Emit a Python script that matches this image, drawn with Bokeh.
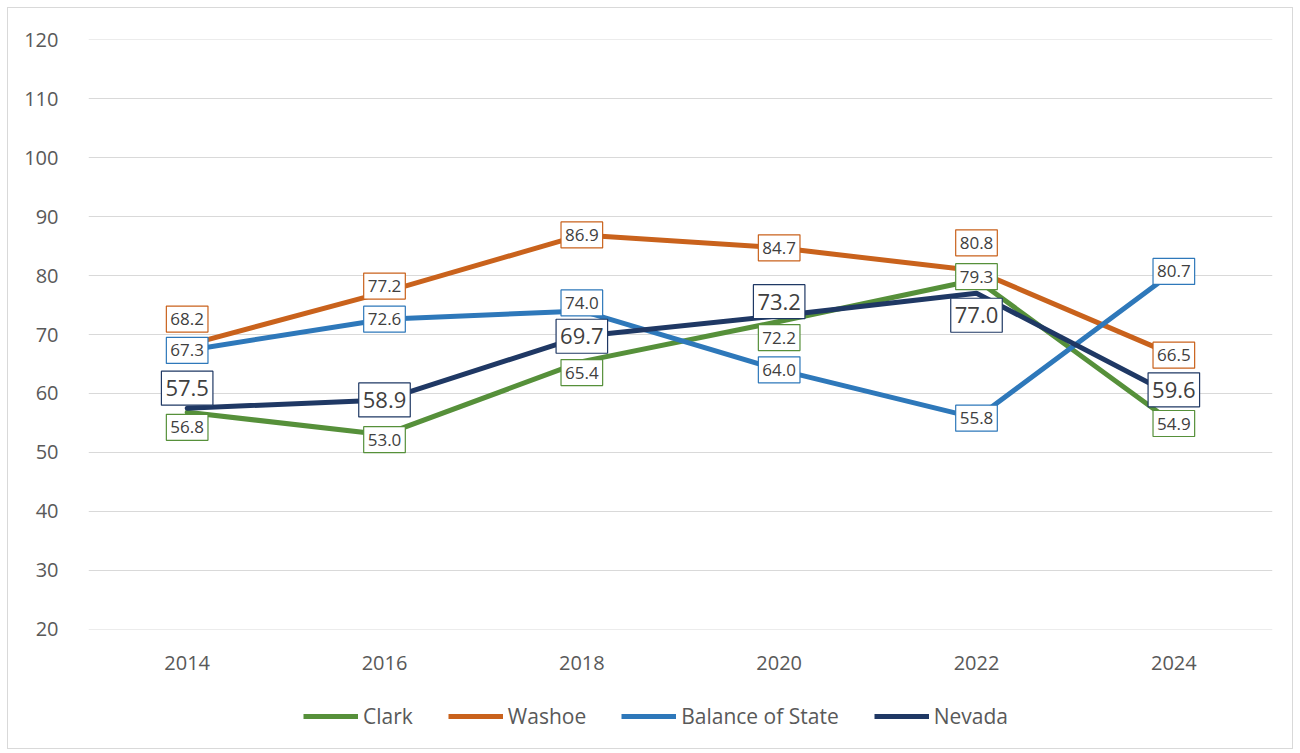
from bokeh.plotting import figure
from bokeh.layouts import column
from bokeh.models import (ColumnDataSource, Label, Legend, LegendItem,
                          Range1d, FixedTicker)
from bokeh.embed import file_html
from bokeh.resources import INLINE

# ---------------- data ----------------
years = [2014, 2016, 2018, 2020, 2022, 2024]
clark = [56.8, 53.0, 65.4, 72.2, 79.3, 54.9]
washoe = [68.2, 77.2, 86.9, 84.7, 80.8, 66.5]
balance = [67.3, 72.6, 74.0, 64.0, 55.8, 80.7]
nevada = [57.5, 58.9, 69.7, 73.2, 77.0, 59.6]
series_names = ["Clark", "Washoe", "Balance of State", "Nevada"]
y_ticks = [20, 30, 40, 50, 60, 70, 80, 90, 100, 110, 120]

# ---------------- styling ----------------
colors = {"Clark": "#56903A", "Washoe": "#C9621C",
          "Balance of State": "#2E78BA", "Nevada": "#1F3864"}
# manual label placement (pixel shifts, up = positive), as in the original chart
label_shift = {"Clark": [-15, -5, -11, -16, 3, 0],
               "Washoe": [26, 6, 0, 0, 28, 0],
               "Balance of State": [0, 0, 8, 0, 0, 0],
               "Nevada": [20, 0, 0, 14, -22, 6]}
label_size = {"Clark": "17px", "Washoe": "17px",
              "Balance of State": "17px", "Nevada": "22px"}
label_pad = {"Clark": (4, 7), "Washoe": (4, 7),
             "Balance of State": (4, 7), "Nevada": (4, 9)}
FONT = "Open Sans"
TXT = "#595959"

values = {"Clark": clark, "Washoe": washoe,
          "Balance of State": balance, "Nevada": nevada}

# ---------------- main chart ----------------
p = figure(output_backend="svg", toolbar_location=None,
           x_range=Range1d(years[0] - 1, years[-1] + 1),
           y_range=Range1d(19.95, 120.05),
           frame_width=1184, frame_height=590,
           min_border_left=80, min_border_right=20, min_border_top=31,
           min_border_bottom=60)
p.outline_line_color = None
p.background_fill_color = "white"
p.border_fill_color = "white"

p.xgrid.visible = False
p.ygrid.grid_line_color = "#d9d9d9"
p.ygrid.grid_line_width = 1

p.yaxis.ticker = FixedTicker(ticks=y_ticks)
p.xaxis.ticker = FixedTicker(ticks=years)
for ax in (p.xaxis, p.yaxis):
    ax.axis_line_color = None
    ax.major_tick_line_color = None
    ax.minor_tick_line_color = None
    ax.major_label_text_font = FONT
    ax.major_label_text_font_size = "20px"
    ax.major_label_text_color = TXT
p.yaxis.major_label_standoff = 24
p.xaxis.major_label_standoff = 20

for name in series_names:
    src = ColumnDataSource(dict(x=years, y=values[name]))
    p.line("x", "y", source=src, line_color=colors[name],
           line_width=5, line_join="round", line_cap="round")

has_padding = "padding" in Label.properties()
for name in series_names:
    for yr, v, dy in zip(years, values[name], label_shift[name]):
        kw = dict(x=yr, y=v, y_offset=dy, text=f"{v:.1f}",
                  text_align="center", text_baseline="middle",
                  text_font=FONT, text_font_size=label_size[name],
                  text_color="#404040",
                  background_fill_color="white", background_fill_alpha=1.0,
                  border_line_color=colors[name], border_line_width=1.2)
        if has_padding:
            kw["padding"] = label_pad[name]
        p.add_layout(Label(**kw))

# ---------------- legend strip ----------------
q = figure(output_backend="svg", toolbar_location=None,
           x_range=Range1d(0, 1284), y_range=Range1d(0, 59),
           frame_width=1284, frame_height=59,
           min_border=0, min_border_left=0, min_border_right=0,
           min_border_top=0, min_border_bottom=0)
q.axis.visible = False
q.grid.visible = False
q.outline_line_color = None
q.background_fill_color = "white"
q.border_fill_color = "white"

# proxy renderers for the legend swatches (a single off-screen point draws no line)
leg_renderers = {}
for name in series_names:
    leg_renderers[name] = q.line(x=[-100], y=[-100], line_color=colors[name], line_width=5)

legend = Legend(items=[LegendItem(label=n, renderers=[leg_renderers[n]]) for n in series_names],
                orientation="horizontal", location=(295, 18),
                label_text_font=FONT, label_text_font_size="21px",
                label_text_color=TXT, glyph_width=55, glyph_height=20,
                label_standoff=5, spacing=35, border_line_color=None,
                background_fill_alpha=0, padding=0, margin=0)
q.add_layout(legend, "center")

layout = column(p, q, spacing=0,
                styles={"margin": "7px", "border": "1px solid #d9d9d9"})

open("out.html", "w").write(file_html(layout, INLINE))
